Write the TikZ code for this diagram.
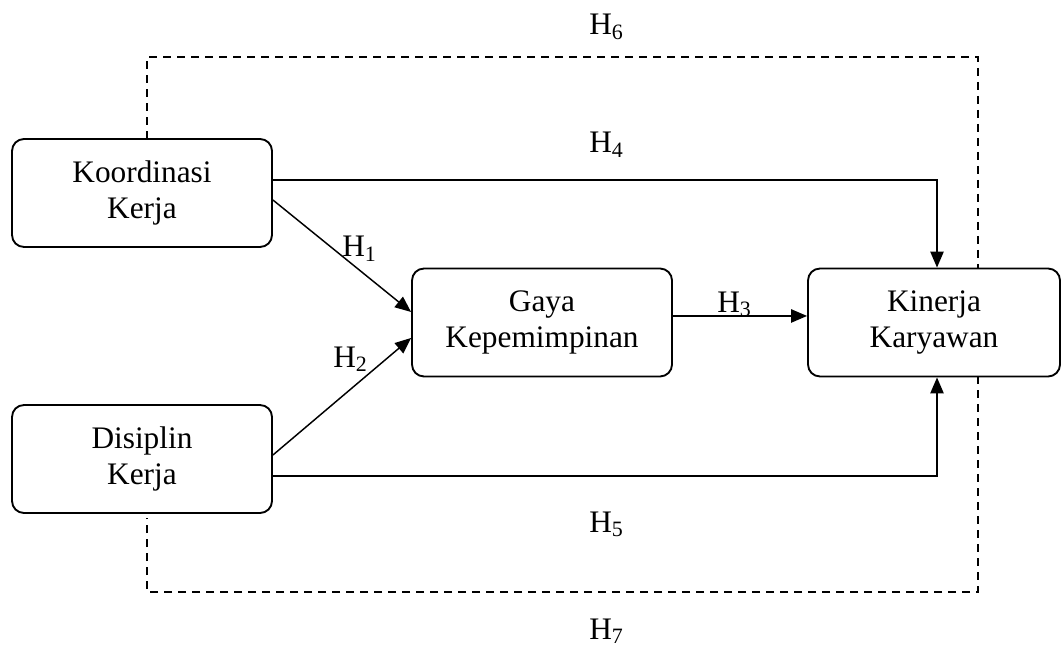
\documentclass[tikz,border=0pt]{standalone}
\usepackage{fontspec}
\setmainfont{Liberation Serif}
\usetikzlibrary{arrows.meta,calc}
\begin{document}
\begin{tikzpicture}[x=0.75pt,y=-0.75pt,
  box/.style={draw,line width=1.4pt,rounded corners=9pt,fill=white,align=center,
    minimum height=81pt,inner sep=0pt,
    font=\fontsize{23.5}{27.5}\selectfont},
  arr/.style={line width=1.1pt,-{Triangle[length=12pt,width=10pt]}},
  dashline/.style={line width=1.3pt,dash pattern=on 6pt off 4.5pt},
  hlab/.style={anchor=base west,inner sep=0pt,font=\fontsize{23.5}{27.5}\selectfont}]
\useasboundingbox (0,0) rectangle (1062,648);
% dashed frame
\coordinate (tl) at (147,57);
\coordinate (tr) at (978,57);
\coordinate (br) at (978,592);
\coordinate (bl) at (147,592);
\coordinate (ktop) at (147,139);
\coordinate (dbot) at (147,518);
\draw[dashline] (ktop) -- (tl) -- (tr) -- (br) -- (bl) -- (dbot);
% boxes
\node[box,minimum width=195pt] (k) at (142,193) {Koordinasi\\Kerja};
\node[box,minimum width=195pt] (d) at (142,459) {Disiplin\\Kerja};
\node[box,minimum width=195pt] (g) at (542,322.5) {Gaya\\Kepemimpinan};
\node[box,minimum width=189pt] (r) at (934,322.5) {Kinerja\\Karyawan};
% arrows
\draw[arr] ([yshift=9.75pt]k.east) -| ([xshift=2.25pt]r.north);
\draw[arr] ([yshift=-12.75pt]d.east) -| ([xshift=2.25pt]r.south);
\draw[arr] ([yshift=-5.25pt]k.east) -- ([yshift=7.9pt]g.west);
\draw[arr] ([yshift=3pt]d.east) -- ([yshift=-11.6pt]g.west);
\draw[arr] ([yshift=4.9pt]g.east) -- ([yshift=4.9pt]r.west);
% labels
\node[hlab] (h6) at (589,35) {H\textsubscript{6}};
\node[hlab] (h4) at (589,153) {H\textsubscript{4}};
\node[hlab] (h1) at (342,257) {H\textsubscript{1}};
\node[hlab] (h2) at (333,367) {H\textsubscript{2}};
\node[hlab] (h3) at (717,312) {H\textsubscript{3}};
\node[hlab] (h5) at (589,532) {H\textsubscript{5}};
\node[hlab] (h7) at (589,639) {H\textsubscript{7}};
\end{tikzpicture}
\end{document}
